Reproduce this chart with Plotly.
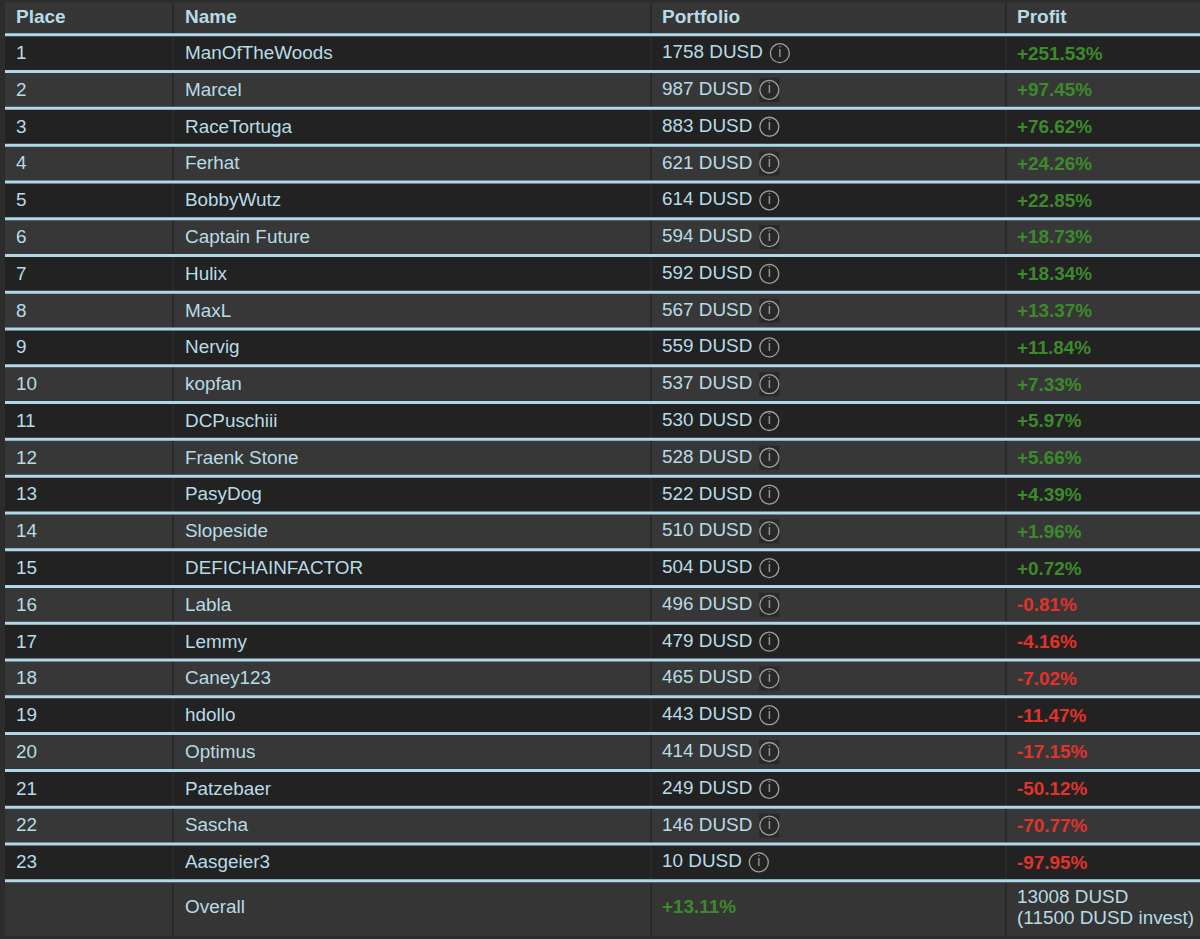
import plotly.graph_objects as go

places = list(range(1, 24))
names = ["ManOfTheWoods", "Marcel", "RaceTortuga", "Ferhat", "BobbyWutz", "Captain Future", "Hulix", "MaxL",
         "Nervig", "kopfan", "DCPuschiii", "Fraenk Stone", "PasyDog", "Slopeside", "DEFICHAINFACTOR", "Labla",
         "Lemmy", "Caney123", "hdollo", "Optimus", "Patzebaer", "Sascha", "Aasgeier3"]
portfolio = [1758, 987, 883, 621, 614, 594, 592, 567, 559, 537, 530, 528, 522, 510, 504, 496, 479, 465, 443,
             414, 249, 146, 10]
profit = ["+251.53%", "+97.45%", "+76.62%", "+24.26%", "+22.85%", "+18.73%", "+18.34%", "+13.37%", "+11.84%",
          "+7.33%", "+5.97%", "+5.66%", "+4.39%", "+1.96%", "+0.72%", "-0.81%", "-4.16%", "-7.02%", "-11.47%",
          "-17.15%", "-50.12%", "-70.77%", "-97.95%"]
headers = ["Place", "Name", "Portfolio", "Profit"]
overall_label = "Overall"
overall_pct = "+13.11%"
overall_sum = ["13008 DUSD", "(11500 DUSD invest)"]

FONT = "Liberation Sans"
TXT = "#b8dbe6"
LINE = "#b0d8e8"
GREEN = "#3d8a2c"
RED = "#e0332b"
DARK = "#222222"
LIGHT = "#373737"
BG = "#2c2c2c"
SEP = "#292929"
FS = 18.9
ROW = 36.78
Y0 = 16.4
W, H = 1200, 939
COL = [16, 185, 662, 1017]
SEPX = [173, 651, 1006]
OVERALL = 24.25


def rpx(p):
    """pixels to row units"""
    return p / ROW


fig = go.Figure()
shapes = []


def band(y0, y1, color, x0=5, x1=W):
    shapes.append(dict(type="rect", xref="x", yref="y", x0=x0, x1=x1, y0=y0, y1=y1,
                       fillcolor=color, line_width=0, layer="below"))


# header band, row bands, overall band
band(-0.38, 0.5, "#363636")
for p in places:
    band(p - 0.5, p + 0.5, DARK if p % 2 else LIGHT)
band(23.5, 25.0, "#353535")

# column separators
for x in SEPX:
    shapes.append(dict(type="line", xref="x", yref="y", x0=x, x1=x, y0=-0.38, y1=25.0,
                       line=dict(color=SEP, width=2), layer="below"))

# row rules
for p in [0] + places:
    shapes.append(dict(type="line", xref="x", yref="y", x0=5, x1=W, y0=p + 0.5, y1=p + 0.5,
                       line=dict(color=LINE, width=3), layer="below"))


def icon_x(v):
    return COL[2] + (0.556 * len(str(v)) + 3.111) * FS + 17


# dark boxes behind the info icons on the lighter rows
for p, v in zip(places, portfolio):
    if p % 2 == 0:
        cx = icon_x(v)
        shapes.append(dict(type="rect", xref="x", yref="y", x0=cx - 10, x1=cx + 10,
                           y0=p - rpx(12), y1=p + rpx(12),
                           fillcolor="#292929", line_width=0, layer="below"))


def text_trace(xs, ys, texts, color, size=FS, bold=False):
    colors = color if isinstance(color, list) else [color] * len(texts)
    fig.add_trace(go.Scatter(
        x=xs, y=ys, text=texts, mode="text", textposition="middle right", hoverinfo="skip",
        textfont=dict(family=FONT, size=size, color=colors, weight="bold" if bold else "normal"),
        showlegend=False))


text_trace(COL, [rpx(2.2)] * 4, headers, TXT, 19, True)
text_trace([COL[0]] * 23, [p + rpx(1.2) for p in places], [str(p) for p in places], TXT)
text_trace([COL[1]] * 23, [p + rpx(1.2) for p in places], names, TXT)
text_trace([COL[2]] * 23, [p + rpx(0.3) for p in places], [f"{v} DUSD" for v in portfolio], TXT)
text_trace([COL[3]] * 23, [p + rpx(1.7) for p in places], profit,
           [GREEN if s[0] == "+" else RED for s in profit], FS, True)

fig.add_trace(go.Scatter(
    x=[icon_x(v) for v in portfolio], y=list(places),
    text=["i"] * 23, mode="markers+text", textposition="middle center", hoverinfo="skip",
    marker=dict(symbol="circle-open", size=19, color="#a0a09c", line=dict(width=1.3, color="#a0a09c")),
    textfont=dict(family=FONT, size=14, color="#a0a09c"), showlegend=False))

text_trace([COL[1]], [OVERALL], [overall_label], TXT)
text_trace([COL[2]], [OVERALL], [overall_pct], GREEN, FS, True)
text_trace([COL[3], COL[3]], [OVERALL - rpx(10.5), OVERALL + rpx(10.5)], overall_sum, TXT)

fig.update_layout(
    width=W, height=H, margin=dict(l=0, r=0, t=0, b=0), autosize=False,
    paper_bgcolor=BG, plot_bgcolor=BG, shapes=shapes, showlegend=False,
    xaxis=dict(range=[0, W], visible=False, fixedrange=True),
    yaxis=dict(range=[(H - Y0) / ROW, -Y0 / ROW], visible=False, fixedrange=True),
)
fig.write_html("out.html", config=dict(displayModeBar=False),
               post_script="document.body.style.margin='0';document.body.style.overflow='hidden';"
                           "document.body.style.background='#2c2c2c';")
